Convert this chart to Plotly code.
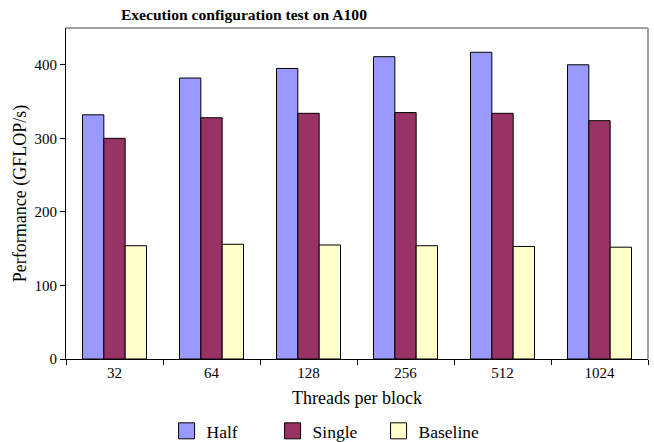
import plotly.graph_objects as go

categories = ["32", "64", "128", "256", "512", "1024"]
half = [332, 382, 395, 411, 417, 400]
single = [300, 328, 334, 335, 334, 324]
baseline = [154, 156, 155, 154, 153, 152]

series = [("Half", half, "#9999FF"), ("Single", single, "#993366"), ("Baseline", baseline, "#FFFFCC")]

FONT = "Liberation Serif, Times New Roman, serif"
fig = go.Figure()
for name, vals, col in series:
    fig.add_trace(go.Bar(x=categories, y=vals, name=name, marker=dict(color=col, line=dict(color="black", width=1)),
                         showlegend=False))
for name, vals, col in series:
    fig.add_trace(go.Scatter(x=[None], y=[None], mode="markers", name=name,
                             marker=dict(symbol="square", size=16, color=col, line=dict(color="black", width=1))))

fig.update_layout(
    width=654, height=442,
    margin=dict(l=66, r=6, t=28, b=83, autoexpand=False),
    paper_bgcolor="white", plot_bgcolor="white",
    font=dict(family=FONT, size=15, color="black"),
    title=dict(text="<b>Execution configuration test on A100</b>", x=0.373, xref="container", xanchor="center",
               y=0.968, yref="container", yanchor="middle", font=dict(size=15.6, family=FONT)),
    barmode="group", bargap=0.34, bargroupgap=0,
    showlegend=True,
    legend=dict(orientation="h", x=0.446, xanchor="center", y=-0.163, yanchor="top",
                font=dict(size=17.5, family=FONT), entrywidth=61, itemsizing="trace"),
    xaxis=dict(type="category", showline=True, linecolor="black", linewidth=1, mirror=False,
               ticks="outside", tickson="boundaries", ticklen=5, tickcolor="black",
               title=dict(text="Threads per block", font=dict(size=18), standoff=11),
               tickfont=dict(size=15)),
    yaxis=dict(range=[0, 450], showline=True, linecolor="black", linewidth=1, ticks="outside", ticklen=5,
               tickcolor="black", tickvals=[0, 100, 200, 300, 400], showgrid=False, zeroline=False,
               title=dict(text="Performance (GFLOP/s)", font=dict(size=18), standoff=3),
               tickfont=dict(size=15)),
    shapes=[dict(type="line", xref="paper", yref="paper", x0=0, x1=1, y0=1, y1=1, line=dict(color="#A0A0A0", width=2)),
            dict(type="line", xref="paper", yref="paper", x0=1, x1=1, y0=0, y1=1, line=dict(color="#A0A0A0", width=2))],
)
fig.write_html("out.html")
